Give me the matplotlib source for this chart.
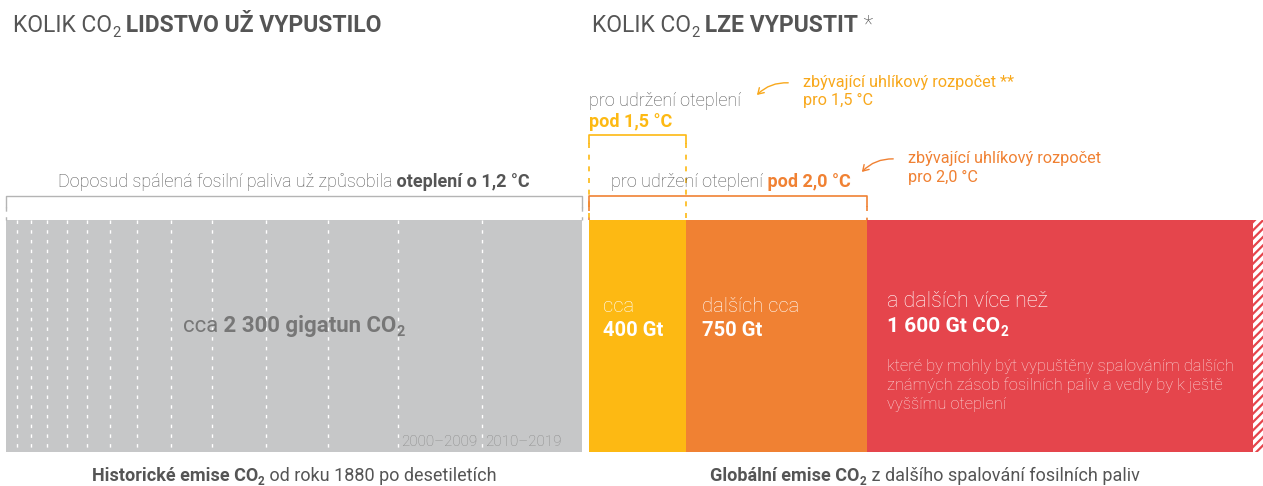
import numpy as np
import matplotlib.pyplot as plt
from matplotlib.patches import FancyArrowPatch

plt.rcParams['font.family'] = ['Roboto', 'DejaVu Sans']
plt.rcParams['hatch.linewidth'] = 1.6

W, H = 1263, 486

# historical CO2 emissions per decade (Gt), 1880-1889 ... 2010-2019
decades = ['1880–1889', '1890–1899', '1900–1909', '1910–1919', '1920–1929',
           '1930–1939', '1940–1949', '1950–1959', '1960–1969', '1970–1979',
           '1980–1989', '1990–1999', '2000–2009', '2010–2019']
hist = [44, 56, 64, 80, 80, 92, 108, 136, 164, 216, 248, 280, 336, 400]
shown = ['2000–2009', '2010–2019']

# what can still be emitted (Gt): 1.5 °C budget, extra up to 2.0 °C, known reserves beyond
budget = [400, 750, 1600]
tail = 40   # hatched end = "more than"

GRAY = '#c6c7c8'
YEL = '#fdb913'
ORA = '#f08133'
RED = '#e5454c'
TXT = '#555555'
LIGHT = '#555555'
AN1 = '#f8a81c'

top, bot = 220, 452
mid, hgt = (top + bot) / 2, bot - top

fig = plt.figure(figsize=(W / 100, H / 100), dpi=100)
axL = fig.add_axes([6 / W, 0, 576 / W, 1])
axR = fig.add_axes([589 / W, 0, (W - 589) / W, 1])
ov = fig.add_axes([0, 0, 1, 1])
for ax, xmax in ((axL, sum(hist)), (axR, sum(budget) + tail), (ov, W)):
    ax.set_xlim(0, xmax)
    ax.set_ylim(H, 0)
    ax.axis('off')


def rich(x, y, parts, size, ha='left'):
    # parts: (text, weight, color[, sub])
    texts = []
    for p in parts:
        s, w, c = p[:3]
        sub = len(p) > 3
        kw = dict(fontsize=size * 0.65 if sub else size, fontweight=w, color=c,
                  va='baseline', ha='left')
        if not texts:
            t = ov.text(x, y, s, **kw)
        else:
            t = ov.annotate(s, xy=(1, y), xycoords=(texts[-1], 'data'),
                            xytext=(0, -size * 0.2 if sub else 0),
                            textcoords='offset points', **kw)
        texts.append(t)
    if ha != 'left':
        r = fig.canvas.get_renderer()
        x0 = texts[0].get_window_extent(r).x0
        x1 = max(t.get_window_extent(r).x1 for t in texts)
        texts[0].set_x(x - (x1 - x0) * (0.5 if ha == 'center' else 1))
    return texts


def bracket(ax, x0, x1, y, color, solid, lw=1.2):
    ax.plot([x0, x0, x1, x1], [y + solid, y, y, y + solid], color=color, lw=lw, clip_on=False)
    ax.vlines([x0, x1], y + solid, top, colors=color, lw=lw, linestyles=(0, (3, 4)), clip_on=False)


# --- historical bar
lefts = np.cumsum([0] + hist[:-1])
axL.barh(mid, hist, left=lefts, height=hgt, color=GRAY, lw=0)
axL.vlines(np.cumsum(hist)[:-1], top, bot, colors='white', lw=1, linestyles=(0, (2.5, 4.5)))
for d, l in zip(decades, lefts):
    if d in shown:
        axL.annotate(d, xy=(l, 446), xytext=(2.5, 0), textcoords='offset points',
                     fontsize=11, color='#888888', va='baseline', fontweight='light')
bracket(axL, 0, sum(hist), 196, '#b4b4b4', 11, lw=1)

# --- budget bar
blefts = np.cumsum([0] + budget[:-1])
axR.barh(mid, budget, left=blefts, height=hgt, color=[YEL, ORA, RED], lw=0)
axR.barh(mid, tail, left=sum(budget), height=hgt, color='white', edgecolor=RED, hatch='////', lw=0)
bracket(axR, 0, budget[0], 135, YEL, 8)
bracket(axR, 0, budget[0] + budget[1], 196, ORA, 10)

# --- titles
rich(13, 32, [('KOLIK CO', 'normal', TXT), ('2', 'normal', TXT, 1),
              (' LIDSTVO UŽ VYPUSTILO', 'bold', TXT)], 16.5)
rich(592, 32, [('KOLIK CO', 'normal', TXT), ('2', 'normal', TXT, 1),
               (' LZE VYPUSTIT', 'bold', TXT), (' *', 'light', TXT)], 16.5)

# --- left annotations
rich(294, 187, [('Doposud spálená fosilní paliva už způsobila', 'light', LIGHT),
                (' oteplení o 1,2 °C', 'bold', TXT)], 13, ha='center')
rich(294, 332, [('cca', 'normal', '#777777'), (' 2 300 gigatun CO', 'bold', '#777777'),
                ('2', 'bold', '#777777', 1)], 16, ha='center')

# --- right annotations
rich(589, 106, [('pro udržení oteplení', 'light', LIGHT)], 13)
rich(589, 127, [('pod 1,5 °C', 'bold', YEL)], 13)
rich(731, 187, [('pro udržení oteplení', 'light', LIGHT), (' pod 2,0 °C', 'bold', ORA)], 13, ha='center')
rich(803, 87, [('zbývající uhlíkový rozpočet **', 'normal', AN1)], 11.7)
rich(803, 105, [('pro 1,5 °C', 'normal', AN1)], 11.7)
rich(908, 163, [('zbývající uhlíkový rozpočet', 'normal', ORA)], 11.7)
rich(908, 182, [('pro 2,0 °C', 'normal', ORA)], 11.7)
ov.add_patch(FancyArrowPatch((791, 83), (755, 97), connectionstyle='arc3,rad=0.25',
                             arrowstyle='->,head_length=4,head_width=2.5', color=AN1, lw=1))
ov.add_patch(FancyArrowPatch((896, 159), (860, 174), connectionstyle='arc3,rad=0.25',
                             arrowstyle='->,head_length=4,head_width=2.5', color=ORA, lw=1))

# --- texts in bars
rich(603, 312, [('cca', 'light', 'white')], 14.5)
rich(603, 336, [('400 Gt', 'bold', 'white')], 14.5)
rich(702, 312, [('dalších cca', 'light', 'white')], 14.5)
rich(702, 336, [('750 Gt', 'bold', 'white')], 14.5)
rich(887, 307, [('a dalších více než', 'light', 'white')], 15.5)
rich(887, 332, [('1 600 Gt CO', 'bold', 'white'), ('2', 'bold', 'white', 1)], 15)
para = ['které by mohly být vypuštěny spalováním dalších',
        'známých zásob fosilních paliv a vedly by k ještě',
        'vyššímu oteplení']
for i, line in enumerate(para):
    rich(887, 371 + i * 19, [(line, 'light', '#fbdadb')], 11.9)

# --- captions
rich(294, 481, [('Historické emise CO', 'bold', TXT), ('2', 'bold', TXT, 1),
                (' od roku 1880 po desetiletích', 'normal', TXT)], 13, ha='center')
rich(925, 481, [('Globální emise CO', 'bold', TXT), ('2', 'bold', TXT, 1),
                (' z dalšího spalování fosilních paliv', 'normal', TXT)], 13, ha='center')

fig.savefig('out.png', dpi=100)
